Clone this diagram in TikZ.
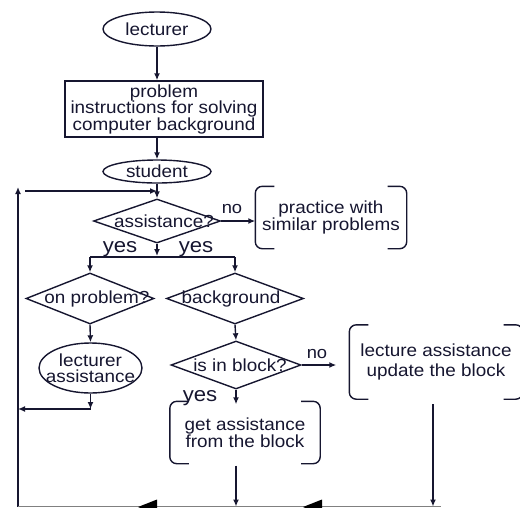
\documentclass[tikz,border=0pt]{standalone}
\usepackage{fontspec}
\setmainfont{Liberation Sans}[FakeStretch=1.08]
\usetikzlibrary{shapes.geometric,arrows.meta}
\definecolor{ink}{RGB}{22,22,48}

\tikzset{
	oval/.style={ellipse,draw,inner sep=0pt},
	decide/.style={diamond,draw,inner sep=0pt,
		every label/.style={font=\fontsize{19}{19}\selectfont}},
	bracketbox/.style={rectangle,inner sep=0pt,align=center},
	answer/.style={anchor=base,inner sep=0pt}
}

\begin{document}
\begin{tikzpicture}[x=1pt,y=-1pt,color=ink,line width=1.4pt,
		>={Latex[length=7pt,width=6pt]}]
		\fontsize{17.5}{16.5}\selectfont
		\useasboundingbox (0,0) rectangle (520,507);
%  		\draw[gray!40] (0,0) grid[step=20] (520,507);

		\node[oval,minimum width=108,minimum height=34,label=center:lecturer] (lecturer) at (157,29) {};
		\node[draw,rectangle,minimum width=198,minimum height=56,align=center,inner sep=0pt] (task) at (164,109)
			{problem\\instructions for solving\\computer background};
		\node[oval,minimum width=108,minimum height=23,label=center:student] (student) at (157,171.5) {};
		\node[decide,minimum width=127,minimum height=44,
			label={[xshift=7]center:assistance?}] (assist) at (157,221) {};
		\node[bracketbox,minimum width=150,minimum height=61] (practice) at (331,217.5)
			{practice with\\similar problems};

		\node[decide,minimum width=128,minimum height=51,
			label={[xshift=7]center:on problem?}] (onprob) at (90,298.5) {};
		\node[decide,minimum width=137,minimum height=51,
			label={[xshift=-4]center:background}] (backgr) at (235,298.5) {};
		\node[oval,minimum width=103,minimum height=50,
			label={[align=center]center:lecturer\\assistance}] (lectass) at (90.5,368) {};
		\node[decide,minimum width=130,minimum height=48,
			label={[xshift=4]center:is in block?}] (isblock) at (236,365) {};
		\node[bracketbox,minimum width=172,minimum height=73] (update) at (436,362)
			{lecture assistance\\[3pt]update the block};
		\node[bracketbox,minimum width=149,minimum height=61] (getblock) at (245,432.5)
			{get assistance\\from the block};

		\node[answer,font=\fontsize{17}{17}\selectfont] (noa) at (232,213) {no};
		\node[answer,font=\fontsize{20.5}{20}\selectfont] (yesa) at (120,252) {yes};
		\node[answer,font=\fontsize{20.5}{20}\selectfont] (yesb) at (196,252) {yes};
		\node[answer,font=\fontsize{17}{17}\selectfont] (nob) at (317,358) {no};
		\node[answer,font=\fontsize{20.5}{20}\selectfont] (yesc) at (200,401.5) {yes};

		\foreach \b in {practice,update,getblock} {
			\draw[rounded corners=7pt] ([xshift=19]\b.north west) -- (\b.north west)
				-- (\b.south west) -- ([xshift=19]\b.south west);
			\draw[rounded corners=7pt] ([xshift=-19]\b.north east) -- (\b.north east)
				-- (\b.south east) -- ([xshift=-19]\b.south east);
		}

		\coordinate (bl) at (18,506.5);
		\coordinate (br) at (441,506.5);
		\coordinate (looptop) at (18,187);
		\coordinate (loopin) at (25,191);
		\coordinate (split) at (157,257);
		\coordinate (back) at (90.5,409);
		\coordinate (tipa) at (138,507);
		\coordinate (tipb) at (303,507);

		\draw[->] (lecturer.south) -- (lecturer.south |- task.north);
		\draw[->] (task.south -| student) -- (student.north);
		\draw[->] (student.south) -- (assist.north);
		\draw[->] (loopin) -- (loopin -| student);
		\draw[->] (bl) -- (looptop);
		\draw[->] (assist.east) -- (assist.east -| practice.west);

		\draw[->] (assist.south) -- ([yshift=1]split);
		\draw (split -| onprob) -- (split -| backgr);
		\draw[->] (split -| onprob) -- (onprob.north);
		\draw[->] (split -| backgr) -- (backgr.north);

		\draw[->] (onprob.south) -- (lectass.north);
		\draw[->] (lectass.south) -- (back);
		\draw[->] (back) -- (back -| bl);

		\draw[->] (backgr.south) -- (isblock.north);
		\draw[->] (isblock.east) -- ([xshift=-13]isblock.east -| update.west);
		\draw[->] (isblock.south) -- ([yshift=-3]isblock.south |- getblock.north);
		\draw[->] ([yshift=-2]getblock.south -| isblock) -- (isblock |- bl);
		\draw[->] ([xshift=-3,yshift=-5]update.south) -- ([xshift=-3]update.south |- bl);

		\draw[gray,line width=0.8pt] (bl) -- (br);
		\fill[black] (tipa) -- ++(19,-7.5) -- ++(0,15) -- cycle;
		\fill[black] (tipb) -- ++(19,-7.5) -- ++(0,15) -- cycle;
	\end{tikzpicture}
\end{document}
